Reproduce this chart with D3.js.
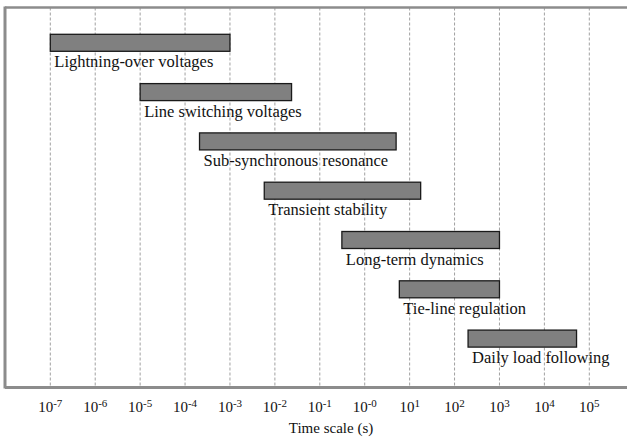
<!DOCTYPE html>
<html>
<head>
<meta charset="utf-8">
<script src="https://cdn.jsdelivr.net/npm/d3@7"></script>
<style>
  body { margin: 0; background: #fff; }
  text { font-family: "Liberation Serif", "Times New Roman", serif; fill: #111; }
</style>
</head>
<body>
<div id="chart"></div>
<script>
// phenomena and their time ranges in seconds
var phenomena = ["Lightning-over voltages", "Line switching voltages", "Sub-synchronous resonance",
    "Transient stability", "Long-term dynamics", "Tie-line regulation", "Daily load following"];
var rangeStart = [1e-7, 1e-5, 2.1e-4, 5.8e-3, 0.31, 5.9, 200];
var rangeEnd = [1e-3, 0.0235, 5, 17.6, 1000, 1000, 52000];

var tickValues = [1e-7, 1e-6, 1e-5, 1e-4, 1e-3, 1e-2, 1e-1, 1, 10, 100, 1e3, 1e4, 1e5];
var tickExponents = ["-7", "-6", "-5", "-4", "-3", "-2", "-1", "-0", "1", "2", "3", "4", "5"];
var xTitle = "Time scale (s)";

var width = 627, height = 439;
var frameLeft = 5, frameTop = 7.5, frameBottom = 387.5;

var svg = d3.select("#chart")
    .append("svg")
    .attr("width", width)
    .attr("height", height);

var x = d3.scaleLog()
    .domain([1e-7, 1e5])
    .range([50.3, 589.3]);

var y = d3.scaleBand()
    .domain(phenomena)
    .range([34.3, 34.3 + 49.3 * phenomena.length]);

// dashed gridlines
svg.append("g")
    .selectAll("line")
    .data(tickValues)
    .join("line")
    .attr("x1", d => x(d))
    .attr("x2", d => x(d))
    .attr("y1", frameTop)
    .attr("y2", frameBottom)
    .attr("stroke", "#a0a0a0")
    .attr("stroke-width", 1)
    .attr("stroke-dasharray", "3,2");

// frame: left, top, bottom (no right side)
svg.append("line")
    .attr("x1", frameLeft).attr("x2", frameLeft)
    .attr("y1", frameTop - 1).attr("y2", frameBottom + 1)
    .attr("stroke", "#8c8c8c").attr("stroke-width", 3);
svg.append("line")
    .attr("x1", frameLeft).attr("x2", width)
    .attr("y1", frameTop).attr("y2", frameTop)
    .attr("stroke", "#8c8c8c").attr("stroke-width", 2.5);
svg.append("line")
    .attr("x1", frameLeft).attr("x2", width)
    .attr("y1", frameBottom).attr("y2", frameBottom)
    .attr("stroke", "#8c8c8c").attr("stroke-width", 3);

var rows = phenomena.map((name, i) => ({ name: name, start: rangeStart[i], end: rangeEnd[i] }));

svg.append("g")
    .selectAll("rect")
    .data(rows)
    .join("rect")
    .attr("x", d => x(d.start))
    .attr("y", d => y(d.name))
    .attr("width", d => x(d.end) - x(d.start))
    .attr("height", 17)
    .attr("fill", "#808080")
    .attr("stroke", "#1a1a1a")
    .attr("stroke-width", 1.3);

svg.append("g")
    .selectAll("text")
    .data(rows)
    .join("text")
    .attr("x", d => x(d.start) + 4)
    .attr("y", d => y(d.name) + 33)
    .attr("font-size", 16.5)
    .text(d => d.name);

// tick labels with superscript exponents
var tickLabel = svg.append("g")
    .selectAll("text")
    .data(tickValues)
    .join("text")
    .attr("x", d => x(d))
    .attr("y", 412)
    .attr("text-anchor", "middle")
    .attr("font-size", 15);
tickLabel.append("tspan").text("10");
tickLabel.append("tspan")
    .attr("dy", -5)
    .attr("font-size", 11)
    .text((d, i) => tickExponents[i]);

svg.append("text")
    .attr("x", 331)
    .attr("y", 433)
    .attr("text-anchor", "middle")
    .attr("font-size", 15)
    .text(xTitle);
</script>
</body>
</html>
